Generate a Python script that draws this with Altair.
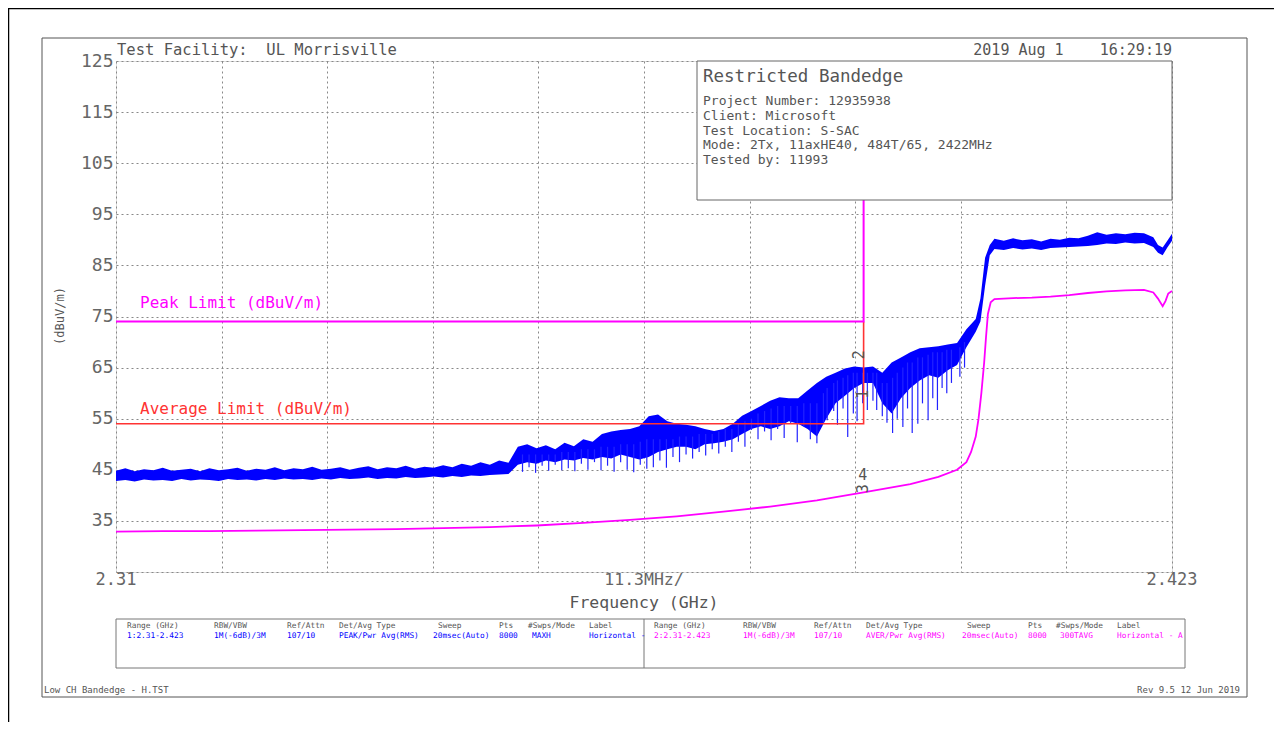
import altair as alt
import pandas as pd

# ---------------- data ----------------
# Peak trace (blue): frequency (GHz), upper and lower edge of the dense band (dBuV/m)
peak_freq = [2.310, 2.311, 2.312, 2.313, 2.314, 2.315, 2.316, 2.317, 2.318, 2.319,
             2.320, 2.321, 2.322, 2.323, 2.324, 2.325, 2.326, 2.327, 2.328, 2.329,
             2.330, 2.331, 2.332, 2.333, 2.334, 2.335, 2.336, 2.337, 2.338, 2.339,
             2.340, 2.341, 2.342, 2.343, 2.344, 2.345, 2.346, 2.347, 2.348, 2.349,
             2.350, 2.351, 2.352,
             2.353, 2.354, 2.355, 2.356, 2.357, 2.358, 2.359, 2.360, 2.361, 2.362,
             2.363, 2.364, 2.365, 2.366, 2.367, 2.368, 2.369, 2.370, 2.371, 2.372,
             2.373, 2.374, 2.375, 2.376, 2.377, 2.378, 2.379, 2.380, 2.381, 2.382,
             2.383, 2.384, 2.385, 2.386, 2.387, 2.388, 2.389, 2.390, 2.391, 2.392,
             2.393, 2.394, 2.395, 2.396, 2.397, 2.398, 2.399, 2.400, 2.401,
             2.402, 2.4025, 2.403, 2.4035,
             2.404, 2.405, 2.406, 2.407, 2.408, 2.409, 2.410, 2.411, 2.412, 2.413,
             2.414, 2.415, 2.416, 2.417, 2.418, 2.419, 2.420,
             2.421, 2.4215, 2.422, 2.4225, 2.423]
peak_hi = [44.8, 45.3, 44.7, 45.1, 44.9, 45.4, 44.8, 45.0, 45.2, 44.7,
           45.3, 44.9, 45.1, 45.4, 44.8, 45.2, 45.0, 45.5, 44.9, 45.3,
           45.1, 45.6, 45.0, 45.2, 45.5, 45.0, 45.4, 45.7, 45.1, 45.5,
           45.3, 45.8, 45.2, 45.6, 45.4, 45.9, 45.5, 46.2, 45.8, 46.5,
           46.0, 46.8, 46.4,
           49.5, 50.0, 49.2, 49.8, 49.0, 50.3, 49.6, 51.0, 50.5, 52.0,
           52.5, 52.8, 53.0, 53.5, 55.5, 55.8, 54.5, 54.0, 53.8, 53.5,
           53.0, 52.6, 53.0, 54.0, 55.6, 56.5, 57.5, 58.5, 59.2, 59.0,
           59.0, 60.5, 62.0, 63.2, 64.0, 64.8, 65.2, 65.0, 65.2, 64.0,
           66.0, 67.0, 68.0, 68.8, 69.0, 69.2, 69.5, 69.8, 72.5,
           74.5, 78.5, 86.5, 89.0,
           90.2, 89.8, 90.3, 89.9, 90.1, 89.7, 90.2, 90.0, 90.4, 90.3,
           90.8, 91.5, 91.0, 91.3, 91.1, 91.4, 91.3,
           90.5, 89.0, 88.5, 89.8, 91.2]
peak_lo = [42.8, 43.0, 42.7, 43.1, 42.9, 43.0, 42.8, 43.2, 42.9, 43.1,
           43.0, 42.8, 43.2, 43.0, 43.1, 42.9, 43.2, 43.0, 43.3, 43.1,
           43.2, 43.0, 43.3, 43.1, 43.4, 43.2, 43.3, 43.5, 43.2, 43.4,
           43.3, 43.6, 43.4, 43.5, 43.7, 43.5, 43.8, 43.6, 43.9, 43.8,
           44.0, 44.1, 44.2,
           46.0, 46.5, 46.2, 46.8, 46.5, 47.0, 46.8, 47.3, 47.0, 47.5,
           47.2, 48.0, 47.5, 47.0, 47.5, 48.5, 49.0, 49.5, 49.5, 49.0,
           50.0, 50.2, 50.5, 51.0, 52.0, 53.0, 53.5, 53.0, 53.5, 54.5,
           54.0, 53.0, 51.5, 55.0, 58.0, 59.5, 61.0, 62.0, 62.0, 58.0,
           56.0, 59.0, 61.0, 62.5, 63.5, 63.0, 64.5, 65.5, 69.0,
           72.0, 74.0, 81.0, 87.0,
           88.2, 88.0, 88.4, 88.1, 88.3, 88.0, 88.4, 88.5, 88.6, 88.7,
           88.8, 89.0, 89.3, 89.2, 89.5, 89.3, 89.4,
           88.6, 87.5, 87.0, 88.5, 89.8]

# Deep dips of the peak trace (thin spikes): frequency, top and bottom of each dip
spike_freq = [2.3535, 2.3542, 2.3549, 2.3556, 2.3563, 2.3570, 2.3577, 2.3584, 2.3591, 2.3598,
              2.3605, 2.3612, 2.3619, 2.3626, 2.3633, 2.3640, 2.3647, 2.3654, 2.3661, 2.3668,
              2.3675, 2.3682, 2.3689, 2.3696, 2.3703, 2.3710, 2.3717, 2.3724, 2.3731, 2.3738,
              2.3745, 2.3752, 2.3759, 2.3766, 2.3773, 2.3780, 2.3787, 2.3794, 2.3801, 2.3808,
              2.3815, 2.3822, 2.3829, 2.3836, 2.3843, 2.3850, 2.3857, 2.3861, 2.3868, 2.3872,
              2.3878, 2.3883, 2.3889, 2.3893, 2.3899, 2.3904, 2.3910, 2.3914, 2.3920, 2.3925,
              2.3931, 2.3936, 2.3942, 2.3947, 2.3952, 2.3958, 2.3963, 2.3969, 2.3974, 2.3979,
              2.3984, 2.3989, 2.3994, 2.4003, 2.4008]
spike_top = [48.0, 48.0, 48.0, 48.0, 48.0, 48.0, 48.5, 48.5, 48.5, 49.0,
             49.0, 49.0, 49.5, 49.5, 49.5, 50.0, 50.0, 50.0, 50.5, 51.0,
             51.0, 51.0, 51.0, 51.0, 51.5, 51.5, 51.5, 52.0, 52.0, 52.0,
             52.5, 53.0, 53.0, 54.0, 54.5, 55.0, 56.0, 56.5, 57.0, 57.5,
             57.5, 57.5, 57.5, 58.0, 58.0, 58.0, 60.0, 61.0, 62.0, 62.5,
             63.0, 63.5, 64.0, 64.0, 64.0, 64.0, 64.0, 64.0, 62.0, 62.0,
             63.0, 64.0, 65.0, 66.0, 66.0, 67.0, 67.0, 67.5, 68.0, 68.0,
             68.0, 68.5, 68.5, 69.0, 70.0]
spike_low = [44.6, 45.5, 44.4, 45.8, 44.8, 46.0, 44.9, 45.3, 44.7, 46.2,
             45.0, 46.5, 44.9, 45.8, 44.6, 46.5, 45.0, 44.5, 46.0, 45.2,
             45.5, 46.8, 45.4, 47.5, 46.5, 48.0, 47.2, 48.5, 47.8, 49.0,
             48.2, 49.5, 48.5, 50.5, 49.5, 52.8, 51.0, 52.5, 50.8, 53.0,
             51.2, 54.0, 50.4, 53.5, 51.0, 50.2, 54.0, 54.7, 56.5, 53.8,
             57.0, 51.4, 56.0, 54.5, 58.0, 56.7, 58.5, 56.7, 55.5, 54.2,
             52.2, 55.0, 53.4, 57.0, 52.2, 54.0, 58.0, 54.7, 59.0, 56.7,
             61.0, 60.0, 62.0, 63.2, 65.0]

# Average trace (magenta)
avg_freq = [2.310, 2.315, 2.320, 2.325, 2.330, 2.335, 2.340, 2.345, 2.350, 2.355,
            2.360, 2.365, 2.370, 2.375, 2.380, 2.385, 2.390, 2.395, 2.398, 2.400,
            2.401, 2.4015, 2.402, 2.4023, 2.4026, 2.4029, 2.4031, 2.4033, 2.4036, 2.404,
            2.406, 2.408, 2.410, 2.412, 2.414, 2.416, 2.418, 2.420, 2.421, 2.4215,
            2.422, 2.4223, 2.4226, 2.423]
avg_val = [32.9, 33.0, 33.0, 33.1, 33.2, 33.3, 33.4, 33.6, 33.8, 34.1,
           34.6, 35.2, 35.9, 36.8, 37.8, 39.0, 40.6, 42.2, 43.6, 45.0,
           46.5, 48.5, 51.5, 55.0, 60.0, 66.0, 71.0, 75.5, 77.8, 78.4,
           78.6, 78.7, 78.9, 79.2, 79.6, 79.9, 80.1, 80.2, 79.7, 78.5,
           77.0, 78.0, 79.5, 80.0]

# Limit lines
peak_limit_freq = [2.31, 2.39, 2.39]
peak_limit_val = [74, 74, 125]
avg_limit_freq = [2.31, 2.39, 2.39]
avg_limit_val = [54, 54, 74]

# Markers
marker_labels = ["2", "1", "4", "3"]
marker_freq = [2.3895, 2.3899, 2.3899, 2.3899]
marker_val = [67.5, 59.8, 44.0, 41.3]
marker_angle = [270, 270, 0, 270]

# Axis ticks
x_ticks = [2.31, 2.3213, 2.3326, 2.3439, 2.3552, 2.3665, 2.3778, 2.3891, 2.4004, 2.4117, 2.423]
y_ticks = [25, 35, 45, 55, 65, 75, 85, 95, 105, 115, 125]

NB = "\u00a0"
header_left = "Test Facility:" + NB * 2 + "UL Morrisville"
header_right = "2019 Aug 1" + NB * 4 + "16:29:19"
info_title = "Restricted Bandedge"
info_lines = ["Project Number: 12935938", "Client: Microsoft", "Test Location: S-SAC",
              "Mode: 2Tx, 11axHE40, 484T/65, 2422MHz", "Tested by: 11993"]
table_headers = ["Range (GHz)", "RBW/VBW", "Ref/Attn", "Det/Avg Type", "Sweep", "Pts", "#Swps/Mode", "Label"]
table_row1 = ["1:2.31-2.423", "1M(-6dB)/3M", "107/10", "PEAK/Pwr Avg(RMS)", "20msec(Auto)", "8000", "MAXH", "Horizontal -"]
table_row2 = ["2:2.31-2.423", "1M(-6dB)/3M", "107/10", "AVER/Pwr Avg(RMS)", "20msec(Auto)", "8000", "300TAVG", "Horizontal - A"]
footer_left = "Low CH Bandedge - H.TST"
footer_right = "Rev 9.5 12 Jun 2019"

# ---------------- layout (pixels relative to plot area) ----------------
W, H = 1056, 511
FONT = "DejaVu Sans Mono"
GREY = "#555555"
BLUE = "#0000ff"
MAG = "#ff00ff"
RED = "#ff3333"

xs = alt.Scale(domain=[2.31, 2.423], nice=False, zero=False)
ys = alt.Scale(domain=[25, 125], nice=False, zero=False)

peak_df = pd.DataFrame({"f": peak_freq, "hi": peak_hi, "lo": peak_lo})
spike_df = pd.DataFrame({"f": spike_freq, "top": spike_top, "low": spike_low})
avg_df = pd.DataFrame({"f": avg_freq, "v": avg_val})
pl_df = pd.DataFrame({"f": peak_limit_freq, "v": peak_limit_val, "o": [0, 1, 2]})
al_df = pd.DataFrame({"f": avg_limit_freq, "v": avg_limit_val, "o": [0, 1, 2]})
mk_df = pd.DataFrame({"f": marker_freq, "v": marker_val, "t": marker_labels, "a": marker_angle})

x_axis = alt.Axis(values=x_ticks, grid=True, gridDash=[2, 3], gridColor="#888",
                  labels=False, ticks=False, domain=False, title=None)
y_axis = alt.Axis(values=y_ticks, grid=True, gridDash=[2, 3], gridColor="#888",
                  ticks=False, domain=False, title=None, labelFont=FONT,
                  labelFontSize=18, labelColor="#666", labelPadding=3,
                  labelExpr="datum.value == 25 ? '' : datum.label")

band = alt.Chart(peak_df).mark_area(color=BLUE, opacity=1, interpolate="linear").encode(
    x=alt.X("f:Q", scale=xs, axis=x_axis),
    y=alt.Y("hi:Q", scale=ys, axis=y_axis),
    y2="lo:Q",
)
spikes = alt.Chart(spike_df).mark_rule(color="#2222ff", strokeWidth=1.2).encode(
    x=alt.X("f:Q", scale=xs), y=alt.Y("top:Q", scale=ys), y2="low:Q")
avg_line = alt.Chart(avg_df).mark_line(color=MAG, strokeWidth=1.8).encode(
    x=alt.X("f:Q", scale=xs), y=alt.Y("v:Q", scale=ys))
pl_line = alt.Chart(pl_df).mark_line(color=MAG, strokeWidth=2).encode(
    x=alt.X("f:Q", scale=xs), y=alt.Y("v:Q", scale=ys), order="o:Q")
al_line = alt.Chart(al_df).mark_line(color=RED, strokeWidth=1.6).encode(
    x=alt.X("f:Q", scale=xs), y=alt.Y("v:Q", scale=ys), order="o:Q")
markers = alt.Chart(mk_df).mark_text(font=FONT, fontSize=15, color="#555").encode(
    x=alt.X("f:Q", scale=xs), y=alt.Y("v:Q", scale=ys), text="t:N",
    angle=alt.Angle("a:Q", scale=None))

one = pd.DataFrame({"a": [0]})


def txt(s, x, y, size, color=GREY, align="left", angle=0):
    kw = dict(font=FONT, fontSize=size, color=color, align=align, baseline="middle")
    if angle:
        kw["angle"] = angle
    return alt.Chart(one).mark_text(**kw).encode(
        x=alt.value(x), y=alt.value(y), text=alt.value(s))


def box(x1, y1, x2, y2, stroke="#666", fill="white", sw=1):
    return alt.Chart(one).mark_rect(fill=fill, stroke=stroke, strokeWidth=sw).encode(
        x=alt.value(x1), x2=alt.value(x2), y=alt.value(y1), y2=alt.value(y2))


def hline(x1, x2, y, color="#555", sw=1):
    return alt.Chart(one).mark_rule(color=color, strokeWidth=sw).encode(
        x=alt.value(x1), x2=alt.value(x2), y=alt.value(y))


def vline(x, y1, y2, color="#555", sw=1):
    return alt.Chart(one).mark_rule(color=color, strokeWidth=sw).encode(
        x=alt.value(x), y=alt.value(y1), y2=alt.value(y2))


layers = [band, spikes, avg_line, al_line, pl_line, markers]

# frames
layers += [hline(-74, 1131, -23), hline(-74, 1131, 636), vline(-74, -23, 636), vline(1131, -23, 636)]
layers += [vline(-107.5, -53, 700, "#000", 1.5), hline(-107.5, 1160, -52.5, "#000", 1.5)]

# info box
layers.append(box(581, 0, 1056, 139))
layers.append(txt(info_title, 587, 16, 17.5))
for i, s in enumerate(info_lines):
    layers.append(txt(s, 587, 40 + i * 14.8, 13))

# header
layers.append(txt(header_left, 1, -11, 15.5))
layers.append(txt(header_right, 1056, -11, 15, align="right"))

# axis texts
layers.append(txt("2.31", 0, 519, 17, color="#666", align="center"))
layers.append(txt("11.3MHz/", 528, 519, 16.5, color="#666", align="center"))
layers.append(txt("2.423", 1056, 519, 17, color="#666", align="center"))
layers.append(txt("Frequency (GHz)", 528, 542, 16.5, align="center"))
layers.append(txt("(dBuV/m)", -56, 255, 12, angle=270, align="center"))

# limit labels
layers.append(txt("Peak Limit (dBuV/m)", 24, 242, 16, color=MAG))
layers.append(txt("Average Limit (dBuV/m)", 24, 348, 16, color=RED))

# table
layers.append(box(0, 558, 1069, 607, stroke="#777", fill="white"))
layers.append(vline(528, 558, 607, "#777"))
hcol1 = [11, 98, 171, 223, 322, 383, 412, 473]
vcol1 = [11, 98, 171, 223, 317, 383, 416, 473]
hcol2 = [538, 627, 698, 750, 851, 912, 940, 1001]
vcol2 = [538, 627, 698, 750, 846, 912, 944, 1001]
for i in range(len(table_headers)):
    layers.append(txt(table_headers[i], hcol1[i], 565, 7.8))
    layers.append(txt(table_headers[i], hcol2[i], 565, 7.8))
    layers.append(txt(table_row1[i], vcol1[i], 575, 7.8, color=BLUE))
    layers.append(txt(table_row2[i], vcol2[i], 575, 7.8, color=MAG))

# footer
layers.append(txt(footer_left, -72, 629, 9))
layers.append(txt(footer_right, 1124, 629, 9, align="right"))

chart = alt.layer(*layers).properties(
    width=W, height=H,
    padding={"left": 108, "top": 53, "right": 102, "bottom": 150},
    autosize=alt.AutoSizeParams(type="none"),
).configure_view(stroke="#777", strokeWidth=1).configure(background="white")

chart.save("out.html", embed_options={"renderer": "svg", "actions": False})
